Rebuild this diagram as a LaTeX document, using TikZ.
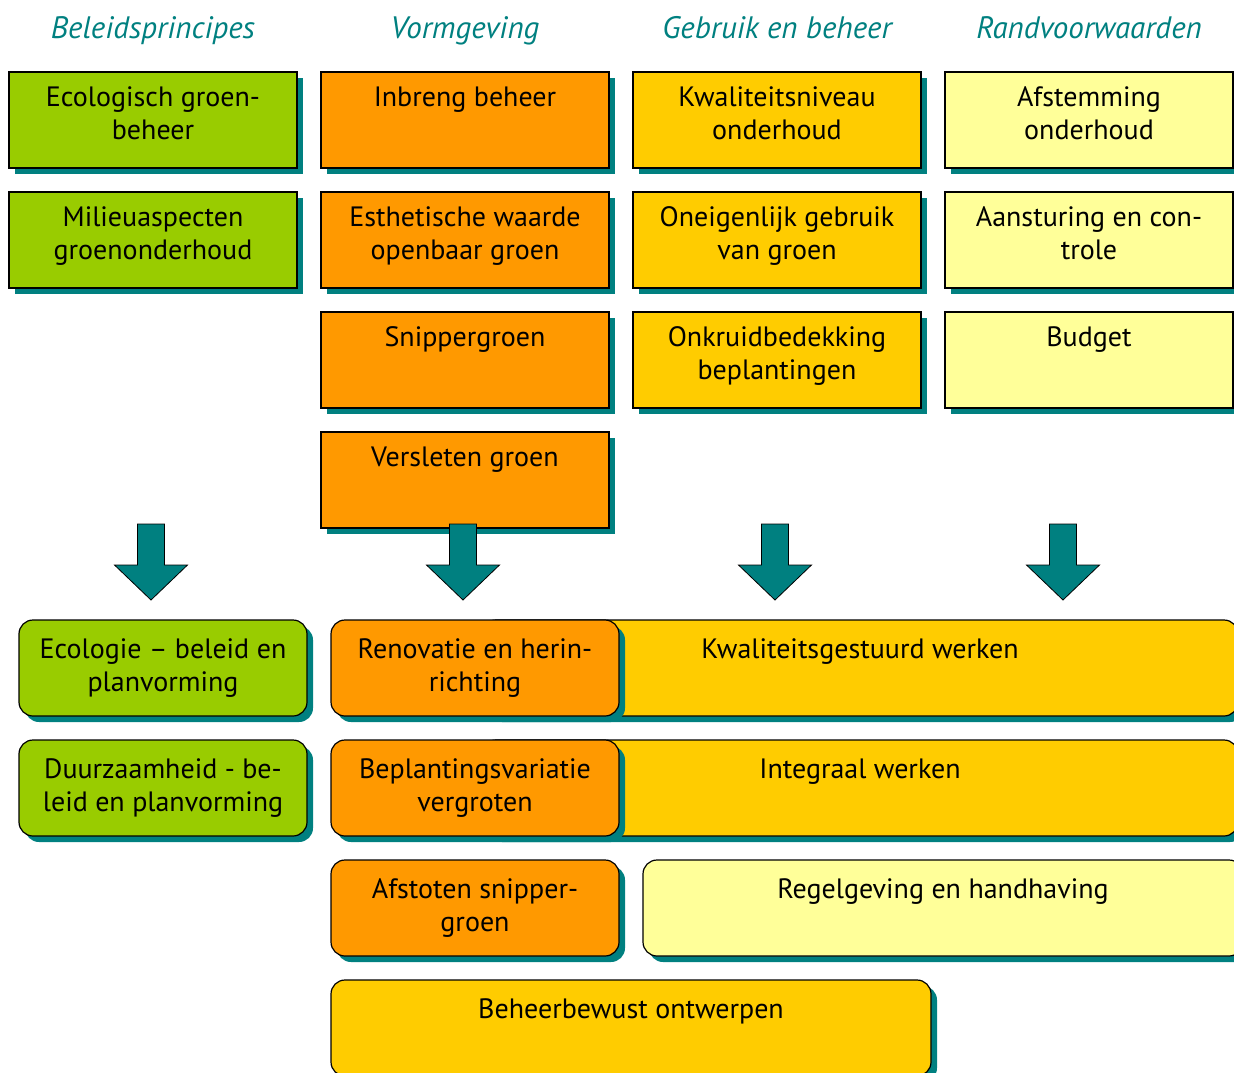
\documentclass[tikz,border=0pt]{standalone}
\usepackage{fontspec}
\setmainfont{PT Sans}
\usetikzlibrary{shadows}

\definecolor{leafgreen}{HTML}{99CC00}
\definecolor{orangebox}{HTML}{FF9900}
\definecolor{goldbox}{HTML}{FFCC00}
\definecolor{paleyellow}{HTML}{FFFF99}
\definecolor{tealish}{HTML}{008080}

% text in a box, set from the top
\newlength{\boxtop}
\setlength{\boxtop}{11pt}
\newcommand{\boxtxt}[2][272pt]{\parbox[c][96pt][t]{#1}{\vspace*{\boxtop}\centering\strut #2}}

\tikzset{
  box/.style={draw=black, line width=1.2pt, inner sep=0pt,
    minimum width=288pt, minimum height=96pt,
    font=\fontsize{28}{33}\selectfont,
    drop shadow={shadow xshift=6pt, shadow yshift=-6pt, fill=tealish, opacity=1}},
  roundbox/.style={box, rounded corners=14pt},
  head/.style={text=tealish, anchor=base, font=\fontsize{31}{34}\selectfont\itshape},
  blockarrow/.style={draw=black, line width=0.8pt, fill=tealish, line join=miter}
}

\begin{document}
\begin{tikzpicture}[x=1pt, y=-1pt]
    \useasboundingbox (0,0) rectangle (1234,1073);
    \clip (0,0) rectangle (1234,1073);

    % Column headings
    \node[head] (h1) at (153,39) {Beleidsprincipes};
    \node[head] (h2) at (465,39) {Vormgeving};
    \node[head] (h3) at (777,39) {Gebruik en beheer};
    \node[head] (h4) at (1089,39) {Randvoorwaarden};

    % Beleidsprincipes
    \node[box, fill=leafgreen] (bp1) at (153,120) {\boxtxt{Ecologisch groen-\\beheer}};
    \node[box, fill=leafgreen] (bp2) at (153,240) {\boxtxt{Milieuaspecten\\groenonderhoud}};

    % Vormgeving
    \node[box, fill=orangebox] (vg1) at (465,120) {\boxtxt{Inbreng beheer}};
    \node[box, fill=orangebox] (vg2) at (465,240) {\boxtxt{Esthetische waarde\\openbaar groen}};
    \node[box, fill=orangebox] (vg3) at (465,360) {\boxtxt{Snippergroen}};
    \node[box, fill=orangebox] (vg4) at (465,480) {\boxtxt{Versleten groen}};

    % Gebruik en beheer
    \node[box, fill=goldbox] (gb1) at (777,120) {\boxtxt{Kwaliteitsniveau\\onderhoud}};
    \node[box, fill=goldbox] (gb2) at (777,240) {\boxtxt{Oneigenlijk gebruik\\van groen}};
    \node[box, fill=goldbox] (gb3) at (777,360) {\boxtxt{Onkruidbedekking\\beplantingen}};

    % Randvoorwaarden
    \node[box, fill=paleyellow] (rv1) at (1089,120) {\boxtxt{Afstemming\\onderhoud}};
    \node[box, fill=paleyellow] (rv2) at (1089,240) {\boxtxt{Aansturing en con-\\trole}};
    \node[box, fill=paleyellow] (rv3) at (1089,360) {\boxtxt{Budget}};

    % Block arrows
    \foreach \x/\n in {151/ar1, 463/ar2, 775/ar3, 1063/ar4} {
        \coordinate (\n) at (\x,524);
        \draw[blockarrow] (\n) ++(-13.5,0) -- ++(0,41) -- ++(-23,0) -- ++(36.5,35)
            -- ++(36.5,-35) -- ++(-23,0) -- ++(0,-41) -- cycle;
    }

    \setlength{\boxtop}{15pt}

    % Results
    \node[roundbox, fill=leafgreen] (ec) at (163,668) {\boxtxt{Ecologie -- beleid en\\planvorming}};
    \node[roundbox, fill=leafgreen] (dz) at (163,788) {\boxtxt{Duurzaamheid - be-\\leid en planvorming}};

    \node[roundbox, fill=goldbox, minimum width=756pt] (kw) at (860,668) {\boxtxt[730pt]{Kwaliteitsgestuurd werken}};
    \node[roundbox, fill=goldbox, minimum width=756pt] (iw) at (860,788) {\boxtxt[730pt]{Integraal werken}};

    \node[roundbox, fill=orangebox] (rh) at (475,668) {\boxtxt{Renovatie en herin-\\richting}};
    \node[roundbox, fill=orangebox] (bv) at (475,788) {\boxtxt{Beplantingsvariatie\\vergroten}};
    \node[roundbox, fill=orangebox] (as) at (475,908) {\boxtxt{Afstoten snipper-\\groen}};

    \node[roundbox, fill=paleyellow, minimum width=600pt] (rg) at (943,908) {\boxtxt[580pt]{Regelgeving en handhaving}};
    \node[roundbox, fill=goldbox, minimum width=600pt] (bo) at (631,1028) {\boxtxt[580pt]{Beheerbewust ontwerpen}};
\end{tikzpicture}
\end{document}
